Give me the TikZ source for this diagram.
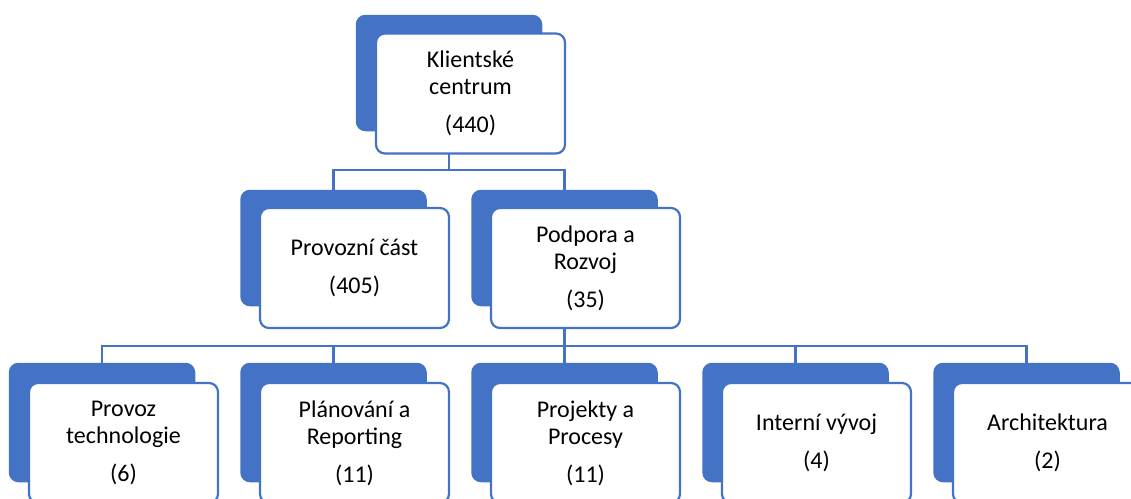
\documentclass[tikz,border=0pt]{standalone}
\usepackage{fontspec}
\setmainfont{Carlito}
\definecolor{sablue}{HTML}{4472C4}
\tikzset{
  backbox/.style={fill=sablue, draw=sablue, line width=1.5pt, rounded corners=9pt, minimum width=185pt, minimum height=115pt, inner sep=0pt},
  frontbox/.style={fill=white, draw=sablue, line width=2.2pt, rounded corners=9pt, minimum width=189pt, minimum height=120pt, inner sep=0pt, align=center, font=\fontsize{24}{27}\selectfont},
  conn/.style={draw=sablue, line width=2.2pt}
}
\begin{document}
\begin{tikzpicture}[x=1pt,y=-1pt]
\useasboundingbox (0,0) rectangle (1131,498);
% back boxes
\node[backbox] (kcB) at (449,73) {};
\node[backbox] (prB) at (333.5,248) {};
\node[backbox] (poB) at (564.5,248) {};
\node[backbox, minimum height=118pt] (b1B) at (102,422.5) {};
\node[backbox, minimum height=118pt] (b2B) at (333.5,422.5) {};
\node[backbox, minimum height=118pt] (b3B) at (564.5,422.5) {};
\node[backbox, minimum height=118pt] (b4B) at (795.5,422.5) {};
\node[backbox, minimum height=118pt] (b5B) at (1026.5,422.5) {};
% connectors
\draw[conn] (kcB.south) -- ++(0,39) coordinate (j1) -| (prB.north);
\draw[conn] (j1) -| (poB.north);
\draw[conn] (poB.south) -- ++(0,40) coordinate (j2);
\draw[conn] (j2) -| (b1B.north);
\draw[conn] (j2) -| (b2B.north);
\draw[conn] (j2) -- (b3B.north);
\draw[conn] (j2) -| (b4B.north);
\draw[conn] (j2) -| (b5B.north);
% front boxes
\node[frontbox] (kc) at (470.5,93.5) {Klientské\\centrum\\[11pt](440)};
\node[frontbox] (pr) at (354.5,268) {Provozní část\\[11pt](405)};
\node[frontbox] (po) at (585.5,268) {Podpora a\\Rozvoj\\[11pt](35)};
\node[frontbox] (b1) at (123.5,443) {Provoz\\technologie\\[11pt](6)};
\node[frontbox] (b2) at (354.5,443) {Plánování a\\Reporting\\[11pt](11)};
\node[frontbox] (b3) at (585.5,443) {Projekty a\\Procesy\\[11pt](11)};
\node[frontbox] (b4) at (816.5,443) {Interní vývoj\\[11pt](4)};
\node[frontbox] (b5) at (1047.5,443) {Architektura\\[11pt](2)};
\end{tikzpicture}
\end{document}
